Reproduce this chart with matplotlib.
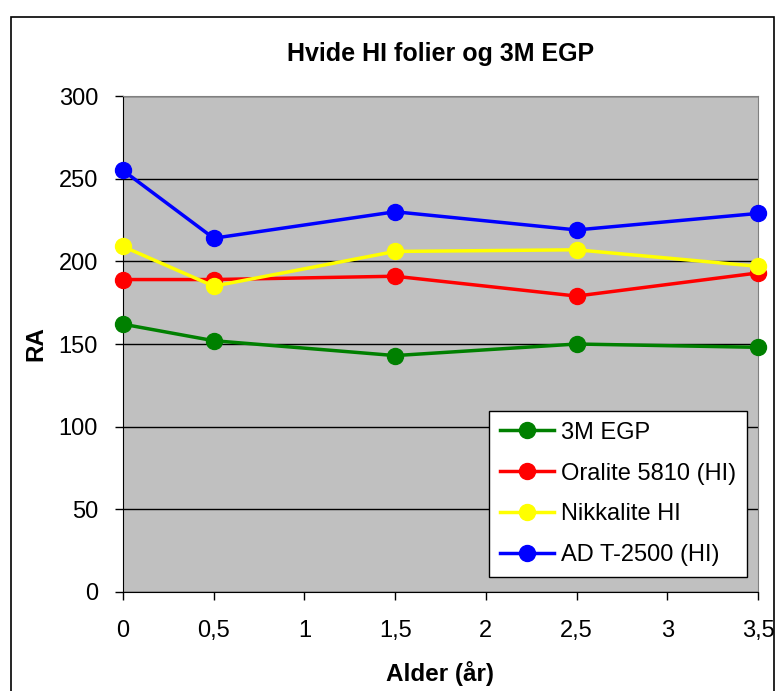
import matplotlib.pyplot as plt
from matplotlib.patches import Rectangle

plt.rcParams['font.family'] = ['Liberation Sans', 'DejaVu Sans']

years = [0, 0.5, 1.5, 2.5, 3.5]
egp = [162, 152, 143, 150, 148]
oralite = [189, 189, 191, 179, 193]
nikkalite = [209, 185, 206, 207, 197]
ad_t2500 = [255, 214, 230, 219, 229]

series = [
    ("3M EGP", egp, "#008000"),
    ("Oralite 5810 (HI)", oralite, "#FF0000"),
    ("Nikkalite HI", nikkalite, "#FFFF00"),
    ("AD T-2500 (HI)", ad_t2500, "#0000FF"),
]

fig = plt.figure(figsize=(7.77, 6.91), dpi=100)
fig.patches.append(Rectangle((11/777, -0.01), 763/777, 1 - 17/691 + 0.01,
                             transform=fig.transFigure, fill=False,
                             edgecolor="black", linewidth=1.2))

ax = fig.add_axes([0.1583, 0.1433, 0.8172, 0.7177])
ax.set_facecolor("#C0C0C0")

for name, vals, col in series:
    ax.plot(years, vals, color=col, linewidth=2.5, marker="o",
            markersize=11.5, label=name, clip_on=False, zorder=3)

ax.set_xlim(0, 3.5)
ax.set_ylim(0, 300)
ax.set_xticks([0, 0.5, 1, 1.5, 2, 2.5, 3, 3.5])
ax.set_xticklabels(["0", "0,5", "1", "1,5", "2", "2,5", "3", "3,5"])
ax.set_yticks(range(0, 301, 50))
ax.yaxis.grid(True, color="black", linewidth=1)
ax.set_axisbelow(True)
ax.tick_params(labelsize=17, length=6, width=1, direction="out")
ax.tick_params(axis="x", pad=14)
ax.tick_params(axis="y", pad=12)
for s in ax.spines.values():
    s.set_color("#808080")
ax.spines["bottom"].set_color("black")
ax.spines["left"].set_color("black")

ax.set_title("Hvide HI folier og 3M EGP", fontsize=18, fontweight="bold", pad=25)
ax.set_xlabel("Alder (år)", fontsize=17.5, fontweight="bold", labelpad=14)
ax.set_ylabel("RA", fontsize=17.5, fontweight="bold", labelpad=8)

leg = ax.legend(loc="lower right", bbox_to_anchor=(747/777, 114/691),
                bbox_transform=fig.transFigure, fontsize=17, frameon=True,
                fancybox=False, edgecolor="black", framealpha=1,
                handlelength=2.3, handletextpad=0.3, labelspacing=0.8,
                borderpad=0.45, borderaxespad=0)
leg.get_frame().set_linewidth(1)

fig.savefig("out.png", dpi=100)
